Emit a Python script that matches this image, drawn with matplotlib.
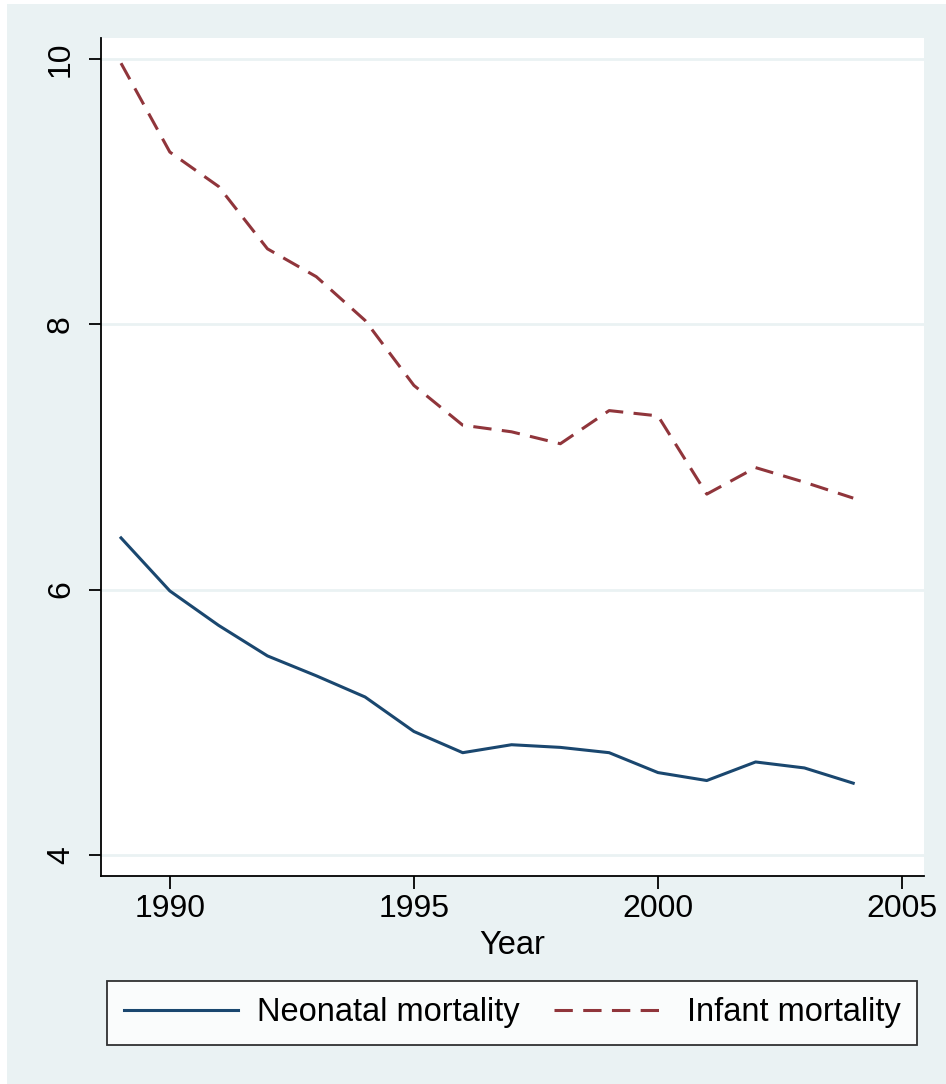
import numpy as np
import matplotlib
matplotlib.use("Agg")
import matplotlib.pyplot as plt
from matplotlib.patches import Rectangle
from matplotlib.lines import Line2D

plt.rcParams['font.family'] = ['Liberation Sans', 'DejaVu Sans']

years = [1989, 1990, 1991, 1992, 1993, 1994, 1995, 1996,
         1997, 1998, 1999, 2000, 2001, 2002, 2003, 2004]
neonatal = [6.39, 5.99, 5.73, 5.50, 5.35, 5.19, 4.93, 4.77,
            4.83, 4.81, 4.77, 4.62, 4.56, 4.70, 4.655, 4.54]
infant = [9.97, 9.30, 9.04, 8.57, 8.36, 8.03, 7.54, 7.24,
          7.19, 7.10, 7.35, 7.31, 6.72, 6.92, 6.81, 6.69]
xticks = [1990, 1995, 2000, 2005]
yticks = [4, 6, 8, 10]

bg = '#eaf2f3'
blue = '#1a476f'
red = '#90353b'

fig = plt.figure(figsize=(9.46, 10.84), dpi=100)
fig.patch.set_facecolor('white')
fig.patches.append(Rectangle((7 / 946, 0), 1, 1 - 4 / 1084, transform=fig.transFigure,
                             facecolor=bg, edgecolor='none', zorder=-10))

ax = fig.add_axes([101 / 946, 1 - 876 / 1084, 823 / 946, 838 / 1084])
ax.set_facecolor('white')

ax.plot(years, neonatal, color=blue, lw=2.2, label='Neonatal mortality', zorder=3)
ax.plot(years, infant, color=red, lw=2.2, dashes=(6, 3.4), label='Infant mortality', zorder=3)

ax.set_xlim(1988.59, 2005.45)
ax.set_ylim(3.84, 10.16)
ax.set_xticks(xticks)
ax.set_yticks(yticks)
ax.grid(axis='y', color=bg, lw=2)
ax.set_axisbelow(True)

for s in ['top', 'right']:
    ax.spines[s].set_visible(False)
for s in ['left', 'bottom']:
    ax.spines[s].set_linewidth(1.3)
    ax.spines[s].set_color('black')

ax.tick_params(axis='both', length=9, width=1.3, labelsize=23)
ax.tick_params(axis='y', pad=9)
ax.tick_params(axis='x', pad=4)
for lbl in ax.get_yticklabels():
    lbl.set_rotation(90)
    lbl.set_va('center')

ax.set_xlabel('Year', fontsize=23.5, labelpad=4)

handles = [Line2D([], [], color=blue, lw=2.2),
           Line2D([], [], color=red, lw=2.2, dashes=(6, 3.4))]
leg = fig.legend(handles, ['Neonatal mortality', 'Infant mortality'],
                 loc='center', bbox_to_anchor=(512 / 946, 1 - 1013 / 1084),
                 ncol=2, fontsize=23.5, frameon=True, fancybox=False,
                 handlelength=3.5, handletextpad=0.58, columnspacing=1.05,
                 borderpad=0.5)
leg.get_frame().set_edgecolor('black')
leg.get_frame().set_linewidth(1.3)
leg.get_frame().set_facecolor('white')

fig.savefig('out.png', dpi=100, facecolor=fig.get_facecolor())
